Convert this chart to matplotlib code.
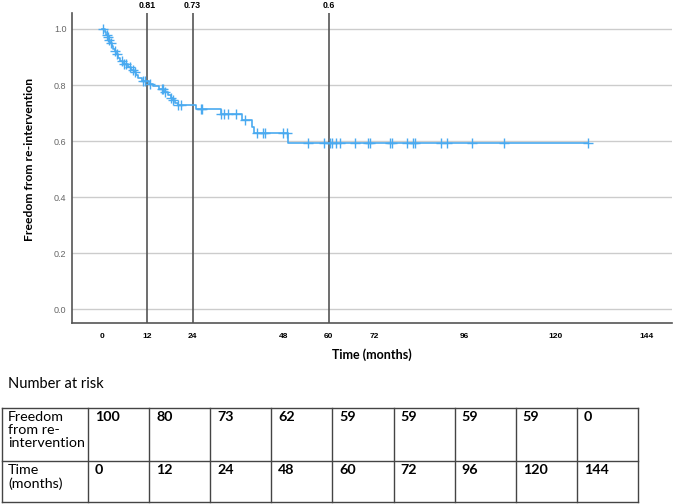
import numpy as np
import matplotlib
matplotlib.use("Agg")
import matplotlib.pyplot as plt
from matplotlib.transforms import blended_transform_factory
from matplotlib.lines import Line2D

# ---- data ----
event_times = [0, 0.8, 1.2, 1.5, 1.8, 2.2, 2.6, 3.0, 3.4, 3.8, 4.2, 4.8, 5.5, 6.8, 7.8,
               8.5, 9.0, 9.5, 10.5, 12.5, 13.5, 15.0, 16.5, 17.5, 18.2, 18.8, 19.4, 20.2,
               25.0, 31.5, 37.0, 39.6, 40.3, 49.3]
surv_after = [1.0, 0.99, 0.98, 0.97, 0.96, 0.95, 0.94, 0.93, 0.92, 0.91, 0.895, 0.885, 0.875,
              0.865, 0.855, 0.845, 0.835, 0.825, 0.815, 0.805, 0.795, 0.785, 0.775, 0.765,
              0.755, 0.745, 0.735, 0.727, 0.715, 0.697, 0.677, 0.652, 0.629, 0.594]
censor_times = [0.3, 1.4, 1.7, 2.0, 2.4, 3.4, 4.0, 5.2, 5.9, 6.5, 7.4, 8.3, 8.7, 10.9, 11.4,
                12.7, 15.8, 16.2, 16.7, 18.4, 18.9, 20.2, 20.8, 26.3, 26.6, 31.6, 32.3, 33.4,
                35.6, 37.8, 41.1, 42.6, 43.2, 47.8, 49.0, 54.6, 58.7, 60.3, 60.9, 62.0, 63.0,
                67.0, 70.5, 71.0, 76.3, 76.7, 80.8, 82.3, 82.9, 89.6, 91.4, 97.8, 106.4, 128.5]
ref_times = [12, 24, 60]
ref_labels = ["0.81", "0.73", "0.6"]
x_ticks = [0, 12, 24, 48, 60, 72, 96, 120, 144]
y_ticks = [0.0, 0.2, 0.4, 0.6, 0.8, 1.0]
risk_times = [0, 12, 24, 48, 60, 72, 96, 120, 144]
risk_counts = [100, 80, 73, 62, 59, 59, 59, 59, 0]
row_label_1 = "Freedom\nfrom re-\nintervention"
row_label_2 = "Time\n(months)"

W, H = 677, 504
fig = plt.figure(figsize=(W / 100, H / 100), dpi=100)
fig.patch.set_facecolor("white")

ax = fig.add_axes([72 / W, 1 - 323 / H, 600 / W, 310 / H])
blue = "#4aaaf0"

ex = list(event_times) + [max(censor_times)]
ey = list(surv_after) + [surv_after[-1]]
ax.step(ex, ey, where="post", color=blue, lw=1.2, zorder=3)
ct = np.array(censor_times)
idx = np.searchsorted(np.array(event_times), ct, side="right") - 1
cs = np.array(surv_after)[idx]
ax.plot(ct, cs, linestyle="none", marker="+", markersize=7, mew=1.0, color=blue, zorder=4)

for t in ref_times:
    ax.axvline(t, color="#555555", lw=1.2, zorder=2)
tr = blended_transform_factory(ax.transData, fig.transFigure)
for t, lab in zip(ref_times, ref_labels):
    ax.text(t, 1 - 6 / H, lab, transform=tr, ha="center", va="center",
            fontsize=6.3, fontweight="bold", family="Liberation Sans")

ax.set_xlim(-7.9, 150.8)
ax.set_ylim(-0.049, 1.057)
ax.set_xticks(x_ticks)
ax.set_xticklabels([str(v) for v in x_ticks], fontsize=6, fontweight="bold",
                   family="Liberation Sans")
ax.set_yticks(y_ticks)
ax.set_yticklabels([f"{v:.1f}" for v in y_ticks], fontsize=6.5, color="#666666",
                   family="Liberation Sans")
ax.tick_params(axis="both", length=0)
ax.tick_params(axis="x", pad=7)
ax.tick_params(axis="y", pad=4)
ax.yaxis.grid(True, color="#cccccc", lw=1.0, zorder=0)
ax.set_axisbelow(True)
for s in ["top", "right"]:
    ax.spines[s].set_visible(False)
for s in ["left", "bottom"]:
    ax.spines[s].set_color("#555555")
    ax.spines[s].set_linewidth(1.2)

ax.set_ylabel("Freedom from re-intervention", fontsize=8.7, fontweight="bold", family="Lato")
ax.yaxis.set_label_coords((35 - 72) / 600, (323 - 159) / 310)
fig.text(372 / W, 1 - 355 / H, "Time (months)", ha="center", va="center",
         fontsize=9, fontweight="bold", family="Lato")

# ---- number at risk table ----
tax = fig.add_axes([0, 0, 1, 1])
tax.set_xlim(0, W)
tax.set_ylim(H, 0)
tax.axis("off")
tax.text(8, 384, "Number at risk", fontsize=10.5, family="Lato", va="center", ha="left")

x0, x1, xr = 2, 88, 638
ncol = len(risk_times)
cw = (xr - x1) / ncol
cols = [x0, x1] + [x1 + cw * (i + 1) for i in range(ncol)]
ytop, ymid, ybot = 408, 461, 502
lc = "#444444"
for y in [ytop, ymid, ybot]:
    tax.add_line(Line2D([x0, xr], [y, y], color=lc, lw=1))
for x in cols:
    tax.add_line(Line2D([x, x], [ytop, ybot], color=lc, lw=1))

tax.text(x0 + 6, ytop + 3, row_label_1, fontsize=10.3, family="Lato", va="top", ha="left",
         linespacing=1.12)
tax.text(x0 + 6, ymid + 3, row_label_2, fontsize=10.3, family="Lato", va="top", ha="left",
         linespacing=1.12)
for i, (t, n) in enumerate(zip(risk_times, risk_counts)):
    cx = x1 + cw * i + 7
    tax.text(cx, ytop + 3, str(n), fontsize=10.3, family="Lato", fontweight="bold",
             va="top", ha="left")
    tax.text(cx, ymid + 3, str(t), fontsize=10.3, family="Lato", fontweight="bold",
             va="top", ha="left")

fig.savefig("out.png", dpi=100, facecolor="white")
